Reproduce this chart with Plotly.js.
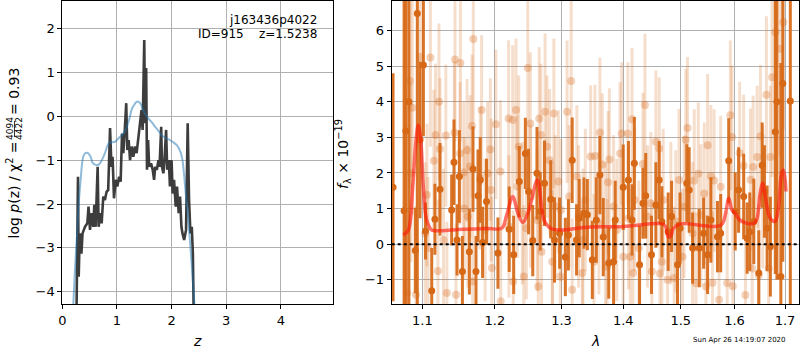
<!DOCTYPE html>
<html>
<head>
<meta charset="utf-8">
<script src="https://cdn.plot.ly/plotly-3.0.1.min.js"></script>
<style>html,body{margin:0;padding:0;background:#fff;}#chart{width:800px;height:350px;}</style>
</head>
<body>
<div id="chart"></div>
<script>
// ---- Left panel: redshift probability ----
const zDark = [0.26,0.287,0.30,0.32,0.35,0.37,0.415,0.458,0.48,0.507,0.537,0.568,0.586,0.61,0.647,0.665,0.69,0.72,0.75,0.78,0.81,0.84,0.874,0.90,0.92,0.946,0.977,1.007,1.04,1.068,1.093,1.117,1.14,1.17,1.19,1.215,1.24,1.27,1.30,1.33,1.36,1.39,1.42,1.45,1.47,1.50,1.515,1.535,1.55,1.57,1.59,1.624,1.655,1.68,1.70,1.73,1.76,1.78,1.81,1.825,1.85,1.87,1.90,1.92,1.95,1.97,2.0,2.02,2.045,2.076,2.10,2.13,2.155,2.18,2.20,2.23,2.265,2.295,2.32,2.345,2.37,2.39,2.405];
const lnpDark = [-4.5,-1.38,-3.66,-2.67,-3.13,-2.67,-2.52,-2.44,-2.06,-2.59,-2.21,-2.52,-2.02,-2.52,-1.15,-2.52,-2.21,-2.44,-1.83,-1.91,-1.72,-1.68,-0.27,-1.15,-0.92,-1.87,-1.45,-1.60,-1.38,-1.49,-0.39,-0.84,-0.39,0.30,-0.77,-0.54,-1.0,-0.69,-0.92,-0.69,-0.84,-0.54,-0.24,0.14,-0.31,1.74,-0.16,1.10,-1.22,-0.54,-1.15,-1.07,-1.22,-1.45,-1.15,-1.22,-1.0,-1.15,-0.24,-1.15,-1.30,-1.0,-0.31,-1.22,-1.0,-1.60,-1.0,-1.76,-1.45,-2.06,-1.60,-2.21,-1.83,-2.52,-2.67,-2.82,-2.59,-0.16,-1.91,-2.67,-2.52,-3.13,-4.5];
const zBlue = [0.19,0.22,0.25,0.275,0.30,0.336,0.37,0.40,0.446,0.48,0.52,0.556,0.60,0.65,0.69,0.74,0.78,0.83,0.86,0.92,0.965,1.03,1.09,1.14,1.18,1.23,1.27,1.32,1.36,1.40,1.44,1.48,1.53,1.576,1.64,1.70,1.76,1.82,1.90,1.97,2.04,2.09,2.13,2.17,2.20,2.22,2.245,2.265,2.30,2.33,2.37,2.40,2.43];
const lnpBlue = [-4.6,-3.8,-3.1,-2.59,-2.0,-1.45,-1.0,-0.87,-0.83,-0.85,-0.93,-1.06,-1.10,-1.11,-1.07,-0.96,-0.84,-0.66,-0.60,-0.59,-0.58,-0.50,-0.43,-0.35,-0.24,-0.05,0.16,0.27,0.33,0.33,0.27,0.14,0.03,-0.05,-0.14,-0.24,-0.33,-0.43,-0.50,-0.54,-0.60,-0.65,-0.72,-0.84,-1.0,-1.22,-1.55,-1.83,-2.25,-2.74,-3.4,-3.95,-4.5];
const zTicks = [0,1,2,3,4];
const lnpTicks = [-4,-3,-2,-1,0,1,2];

// ---- Right panel: spectrum ----
const lamDark = [1.0620,1.0762,1.0785,1.0824,1.0908,1.0934,1.0970,1.1014,1.1042,1.1125,
 1.1167,1.1236,1.1394,1.1426,1.1468,1.1500,1.1542,1.1639,1.1690,1.1732,
 1.1760,1.1792,1.1825,1.1881,1.2045,1.2209,1.2275,1.2358,1.2448,1.2496,
 1.2559,1.2623,1.2672,1.2737,1.2833,1.2891,1.2970,1.3060,1.3108,1.3168,
 1.3237,1.3280,1.3355,1.3410,1.3490,1.3555,1.3613,1.3668,1.3758,1.3839,
 1.3866,1.4000,1.4088,1.4148,1.4188,1.4277,1.4335,1.4383,1.4483,1.4559,
 1.4617,1.4665,1.4776,1.4836,1.4942,1.4988,1.5110,1.5153,1.5215,1.5337,
 1.5418,1.5492,1.5553,1.5676,1.5737,1.5889,1.6014,1.6079,1.6178,1.6245,
 1.6296,1.6375,1.6473,1.6540,1.6586,1.6639,1.6704,1.6803,1.6836,1.6915,
 1.6955,1.7109];
const fluxDark = [1.60,0.94,3.18,4.00,-0.18,6.48,2.93,5.03,0.37,-1.31,
 0.70,1.54,0.96,2.30,0.12,1.90,-0.77,-0.21,2.11,-0.77,
 1.36,1.80,0.05,1.20,-0.25,0.42,-0.30,1.76,2.55,1.48,
 0.10,1.99,0.92,1.71,1.26,0.12,0.31,-0.36,0.26,2.36,
 0.12,0.73,0.87,0.83,-0.44,0.68,1.94,0.20,-0.53,-0.49,
 0.68,1.60,1.80,0.68,2.27,-0.58,1.15,1.36,-0.30,1.10,
 1.80,0.63,0.35,0.78,-0.58,0.45,1.71,1.52,-0.11,-0.11,
 0.31,-0.30,0.68,0.21,0.31,2.34,0.92,1.52,1.34,0.17,
 0.35,0.64,-0.81,2.22,1.48,0.45,-0.07,3.16,4.00,-0.91,
 4.51,4.02];
const errDark = [3.2,9.0,9.0,9.0,1.2,9.0,2.2,2.0,0.8,1.2,
 1.0,1.3,1.0,1.2,1.0,1.3,1.0,1.2,1.2,1.0,
 1.3,1.2,1.0,1.2,1.0,1.2,1.1,1.0,1.0,1.2,
 1.0,1.3,1.1,1.2,1.1,1.2,1.0,1.1,1.0,1.2,
 1.0,1.1,1.0,1.0,1.1,1.2,1.1,1.1,1.0,1.2,
 1.1,1.2,1.1,1.0,1.3,1.1,1.0,1.2,1.1,1.2,
 1.1,1.0,1.1,1.0,1.2,1.0,1.1,1.2,1.0,1.1,
 1.0,1.1,1.2,1.0,1.1,1.2,1.1,1.2,1.2,1.0,
 1.1,1.2,1.2,1.2,1.3,1.2,1.4,4.0,5.0,6.0,
 5.0,9.0];

const lamLight = [1.0802,1.0838,1.0851,1.0868,1.0917,1.0970,1.1038,1.1061,1.1075,1.1107,
 1.1153,1.1176,1.1208,1.1222,1.1236,1.1283,1.1315,1.1329,1.1431,1.1440,
 1.1454,1.1510,1.1514,1.1561,1.1569,1.1607,1.1617,1.1649,1.1676,1.1686,
 1.1694,1.1792,1.1811,1.1861,1.1895,1.1936,1.1947,1.1958,1.2015,1.2081,
 1.2085,1.2200,1.2204,1.2260,1.2268,1.2309,1.2328,1.2349,1.2403,1.2424,
 1.2463,1.2484,1.2522,1.2528,1.2627,1.2642,1.2657,1.2682,1.2693,1.2746,
 1.2776,1.2816,1.2857,1.2861,1.2881,1.2902,1.2951,1.2981,1.2991,1.3087,
 1.3119,1.3152,1.3168,1.3242,1.3269,1.3329,1.3339,1.3377,1.3463,1.3516,
 1.3532,1.3597,1.3613,1.3652,1.3705,1.3732,1.3748,1.3769,1.3839,1.3893,
 1.3947,1.3974,1.4000,1.4078,1.4088,1.4118,1.4148,1.4166,1.4194,1.4265,
 1.4335,1.4370,1.4413,1.4471,1.4489,1.4559,1.4617,1.4630,1.4665,1.4688,
 1.4765,1.4823,1.4882,1.4912,1.4970,1.5031,1.5061,1.5092,1.5123,1.5216,
 1.5245,1.5276,1.5319,1.5368,1.5429,1.5461,1.5492,1.5553,1.5584,1.5614,
 1.5706,1.5737,1.5860,1.5921,1.5952,1.5967,1.6099,1.6177,1.6211,1.6310,
 1.6343,1.6363,1.6442,1.6473,1.6507,1.6552,1.6625,1.6670,1.6704,1.6738,
 1.6803,1.6901,1.6966];
const fluxLight = [-1.37,4.58,2.0,3.83,-1.42,5.26,0.30,1.38,-0.11,5.24,
 2.34,3.07,-0.75,4.00,2.67,0.12,3.05,-1.37,3.13,5.19,
 -1.42,2.55,5.09,2.01,1.00,2.64,0.78,2.18,3.32,-1.05,
 5.76,1.85,3.77,0.40,1.99,2.66,1.52,-0.67,3.37,2.04,
 -1.60,3.53,0.50,3.49,-1.05,3.77,1.62,2.74,0.87,-0.91,
 0.45,4.95,3.39,1.34,0.68,-1.19,3.53,3.07,-0.21,3.72,
 2.74,2.36,-0.49,0.31,3.67,1.06,1.76,-0.91,0.96,3.72,
 1.34,4.58,-1.28,1.90,0.78,-0.81,0.12,1.24,2.46,-0.49,
 2.48,0.59,3.14,2.24,0.31,-0.63,1.74,2.38,1.06,0.40,
 2.55,3.11,-0.35,3.11,0.73,-0.35,3.51,-0.81,1.24,-0.11,
 2.25,3.91,0.78,1.15,-0.77,2.88,2.69,-0.82,-0.49,1.24,
 -1.00,0.87,-0.95,0.64,1.80,-0.35,1.05,2.93,3.26,0.30,
 1.79,-1.10,1.98,0.81,1.42,-1.19,2.78,1.91,-1.08,1.79,
 -1.56,1.61,-1.09,3.62,3.01,-1.18,2.56,2.20,-1.43,1.81,
 -0.68,2.17,2.45,-0.87,3.03,1.33,4.20,-0.68,2.45,4.69,
 5.95,5.49,6.23];
const errLight = [2.2,3.0,2.5,3.0,2.5,2.5,2.0,2.0,2.0,2.5,
 2.0,2.0,2.0,2.2,2.0,2.0,2.0,2.0,2.0,2.3,
 2.0,2.0,2.2,2.0,2.0,2.0,2.0,2.0,2.0,2.0,
 2.4,2.0,2.1,2.0,2.0,2.0,2.0,2.0,2.1,2.0,
 2.0,2.2,2.0,2.1,2.0,2.0,2.0,2.0,2.0,2.0,
 2.0,2.3,2.0,2.0,2.0,2.0,2.0,2.0,2.0,2.2,
 2.0,2.0,2.0,2.0,2.1,2.0,2.0,1.9,2.0,2.0,
 2.0,2.4,2.0,2.0,2.0,2.0,2.0,2.0,2.0,1.9,
 2.0,2.0,2.1,2.0,2.0,1.9,2.0,2.0,2.0,2.0,
 2.0,2.0,1.9,2.0,2.0,1.9,2.0,2.0,2.0,1.9,
 2.0,2.0,2.0,2.0,2.0,2.0,2.0,2.0,1.9,2.0,
 2.0,2.0,2.0,2.0,2.0,1.9,2.0,2.0,2.0,2.0,
 2.0,2.0,2.0,2.0,2.0,2.0,2.0,2.0,2.0,2.0,
 2.0,2.0,2.0,2.1,2.0,2.0,2.0,2.0,2.0,2.0,
 2.0,2.0,2.0,2.0,2.0,2.0,2.2,2.0,2.0,2.8,
 3.0,3.0,3.0];

const lamModel = [1.0752,1.0817,1.0874,1.0917,1.0947,1.0979,1.1013,1.1058,1.1125,1.1235,1.155,1.19,1.21,1.217,1.226,1.234,1.241,1.25,1.263,1.273,1.283,1.303,1.335,1.40,1.467,1.473,1.478,1.482,1.487,1.50,1.574,1.583,1.589,1.595,1.601,1.610,1.636,1.643,1.650,1.655,1.660,1.670,1.680,1.687,1.693,1.697,1.702];
const fluxModel = [0.26,0.40,1.62,2.93,3.35,2.93,1.62,0.68,0.40,0.38,0.42,0.44,0.45,0.80,1.34,0.85,0.61,0.95,1.80,0.68,0.45,0.40,0.47,0.50,0.57,0.50,0.20,0.22,0.45,0.57,0.53,0.87,1.29,0.96,0.87,0.68,0.57,0.68,1.43,1.71,1.34,0.73,0.64,1.06,1.99,2.08,1.48];
const lamTicks = [1.1,1.2,1.3,1.4,1.5,1.6,1.7];
const lamTickText = ['1.1','1.2','1.3','1.4','1.5','1.6','1.7'];
const fluxTicks = [-1,0,1,2,3,4,5,6];

const orange = 'rgb(214,104,22)';
const FONT = 'DejaVu Sans, sans-serif';

const traces = [
  {x: zDark, y: lnpDark, xaxis:'x', yaxis:'y', mode:'lines', line:{color:'rgba(45,45,45,0.92)', width:2.6}, hoverinfo:'skip'},
  {x: zBlue, y: lnpBlue, xaxis:'x', yaxis:'y', mode:'lines', line:{color:'rgba(31,119,180,0.5)', width:2, shape:'spline'}, hoverinfo:'skip'},
  {x: lamLight, y: fluxLight, xaxis:'x2', yaxis:'y2', mode:'markers',
   marker:{color:'rgba(214,104,22,0.3)', size:8, line:{width:0}},
   error_y:{type:'data', array: errLight, visible:true, color:'rgba(214,104,22,0.22)', thickness:3, width:0}},
  {x: lamDark, y: fluxDark, xaxis:'x2', yaxis:'y2', mode:'markers',
   marker:{color:orange, size:7, line:{width:0}},
   error_y:{type:'data', array: errDark, visible:true, color:'rgba(214,104,22,0.92)', thickness:3, width:0}},
  {x: lamModel, y: fluxModel, xaxis:'x2', yaxis:'y2', mode:'lines', line:{color:'rgba(255,25,10,0.62)', width:3.5, shape:'spline'}}
];

const axBase = {showline:true, mirror:true, linecolor:'black', linewidth:1, ticks:'outside', ticklen:4, tickcolor:'black',
  showgrid:true, gridcolor:'#b0b0b0', gridwidth:1, zeroline:false, tickfont:{family:FONT, size:13, color:'black'}};

const layout = {
  width:800, height:350, margin:{l:0, r:0, t:1, b:46},
  paper_bgcolor:'white', plot_bgcolor:'white', showlegend:false,
  font:{family:FONT, color:'black'},
  xaxis: Object.assign({}, axBase, {domain:[62.3/800, 333.3/800], range:[0,4.96], tickmode:'array', tickvals:zTicks, anchor:'y'}),
  yaxis: Object.assign({}, axBase, {domain:[0,1], range:[-4.28,2.63], tickmode:'array', tickvals:lnpTicks, anchor:'x'}),
  xaxis2: Object.assign({}, axBase, {domain:[391.7/800, 799/800], type:'log', range:[Math.log10(1.0603), Math.log10(1.7288)], tickmode:'array', tickvals:lamTicks, ticktext:lamTickText, anchor:'y2'}),
  yaxis2: Object.assign({}, axBase, {domain:[0,1], range:[-1.68,6.83], tickmode:'array', tickvals:fluxTicks, anchor:'x2'}),
  shapes: [
    {type:'line', xref:'x2 domain', yref:'y2', x0:0, x1:1, y0:0, y1:0, line:{color:'black', width:2, dash:'dot'}},
    {type:'line', xref:'paper', yref:'paper', x0:14.5/800, x1:14.5/800, y0:(304-121)/303, y1:(304-137)/303, line:{color:'black', width:0.8}}
  ],
  annotations: [
    {xref:'paper', yref:'paper', x:318.5/800, y:(304-20.5)/303, xanchor:'right', yanchor:'middle', showarrow:false, text:'j163436p4022', font:{family:FONT, size:12}},
    {xref:'paper', yref:'paper', x:318.5/800, y:(304-34.5)/303, xanchor:'right', yanchor:'middle', showarrow:false, text:'ID=915\u00a0\u00a0\u00a0\u00a0z=1.5238', font:{family:FONT, size:12}},
    {xref:'paper', yref:'paper', x:13.5/800, y:(304-190)/303, xanchor:'center', yanchor:'middle', showarrow:false, textangle:-90, text:'log <i>p</i>(z) / χ<sup>2</sup> =', font:{family:FONT, size:14}},
    {xref:'paper', yref:'paper', x:13.5/800, y:(304-91.5)/303, xanchor:'center', yanchor:'middle', showarrow:false, textangle:-90, text:'= 0.93', font:{family:FONT, size:14}},
    {xref:'paper', yref:'paper', x:10/800, y:(304-129)/303, xanchor:'center', yanchor:'middle', showarrow:false, textangle:-90, text:'4094', font:{family:FONT, size:9}},
    {xref:'paper', yref:'paper', x:19/800, y:(304-129)/303, xanchor:'center', yanchor:'middle', showarrow:false, textangle:-90, text:'4422', font:{family:FONT, size:9}},
    {xref:'paper', yref:'paper', x:343/800, y:(304-154)/303, xanchor:'center', yanchor:'middle', showarrow:false, textangle:-90, text:'<i>f</i><sub>λ</sub> × 10<sup>−19</sup>', font:{family:FONT, size:14}},
    {xref:'paper', yref:'paper', x:197/800, y:(304-341)/303, xanchor:'center', yanchor:'middle', showarrow:false, text:'<i>z</i>', font:{family:FONT, size:14}},
    {xref:'paper', yref:'paper', x:595/800, y:(304-341)/303, xanchor:'center', yanchor:'middle', showarrow:false, text:'<i>λ</i>', font:{family:FONT, size:14}},
    {xref:'paper', yref:'paper', x:787.7/800, y:(304-339.5)/303, xanchor:'right', yanchor:'middle', showarrow:false, text:'Sun Apr 26 14:19:07 2020', font:{family:FONT, size:7}}
  ]
};

Plotly.newPlot('chart', traces, layout, {staticPlot:true, displayModeBar:false});
</script>
</body>
</html>
